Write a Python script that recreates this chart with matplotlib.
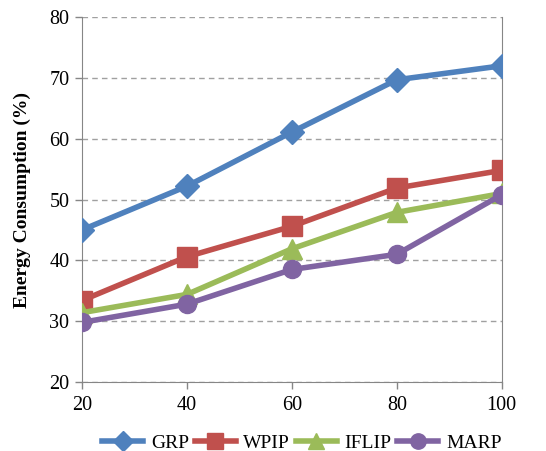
import matplotlib
matplotlib.use("Agg")
import matplotlib.pyplot as plt

x_vals = [20, 40, 60, 80, 100]
grp = [45.0, 52.2, 61.1, 69.7, 72.0]
wpip = [33.4, 40.6, 45.6, 51.9, 54.8]
iflip = [31.4, 34.4, 41.9, 47.9, 51.0]
marp = [29.8, 32.8, 38.5, 41.0, 50.8]
series_names = ["GRP", "WPIP", "IFLIP", "MARP"]
y_ticks = [20, 30, 40, 50, 60, 70, 80]

plt.rcParams['font.family'] = ['Liberation Serif', 'DejaVu Serif']

fig = plt.figure(figsize=(5.46, 4.51), dpi=100)
ax = fig.add_axes([0.150, 0.153, 0.769, 0.809])

colors = ["#4F81BD", "#C0504D", "#9BBB59", "#8064A2"]
markers = ["D", "s", "^", "o"]
msizes = [12, 14, 14, 13]
for vals, name, c, m, ms in zip([grp, wpip, iflip, marp], series_names, colors, markers, msizes):
    ax.plot(x_vals, vals, color=c, marker=m, markersize=ms, linewidth=4,
            label=name, markeredgecolor=c, zorder=3)

ax.set_xlim(20, 100)
ax.set_ylim(20, 80)
ax.set_xticks(x_vals)
ax.set_yticks(y_ticks)
ax.tick_params(axis='both', labelsize=14.5, colors='#868686', labelcolor='black',
               direction='out', length=5, width=1)
ax.yaxis.grid(True, linestyle=(0, (4, 3)), color='#A0A0A0', linewidth=1)
ax.set_axisbelow(True)
for s in ['left', 'bottom', 'right']:
    ax.spines[s].set_color('#868686')
ax.spines['top'].set_visible(False)
ax.tick_params(axis='x', pad=5)
ax.tick_params(axis='y', pad=4)

ax.set_ylabel("Energy Consumption (%)", fontsize=14, fontweight='bold', labelpad=13)
for lab in ax.get_xticklabels() + ax.get_yticklabels():
    lab.set_clip_on(False)

leg = fig.legend(loc='lower center', bbox_to_anchor=(0.553, -0.04), ncol=4, frameon=False,
                 fontsize=14, handlelength=2.1, columnspacing=0.3, handletextpad=0.4,
                 markerscale=0.85)

fig.savefig("out.png", dpi=100)
